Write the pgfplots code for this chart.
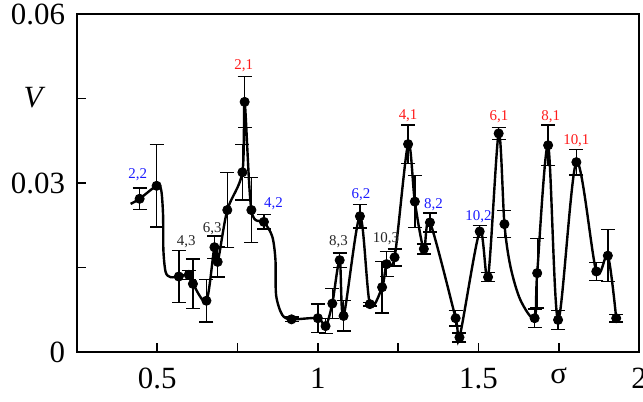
\documentclass[border=0pt]{standalone}
\usepackage{fontspec}
\setmainfont{Liberation Serif}
\usepackage{pgfplots}
\pgfplotsset{compat=1.18}
\usepackage{pgfplotstable}
\definecolor{lblred}{HTML}{FF1A1A}
\definecolor{lblblue}{HTML}{1A1AFF}

% smooth model curve
\pgfplotstableread{
s V
0.417 0.0263
0.445 0.0272
0.498 0.0295
0.512 0.0288
0.518 0.0243
0.519 0.0181
0.526 0.0142
0.541 0.0133
0.567 0.0134
0.598 0.0137
0.611 0.0121
0.653 0.0091
0.678 0.0186
0.688 0.0160
0.718 0.0252
0.765 0.0319
0.772 0.0444
0.793 0.0252
0.832 0.0231
0.858 0.0205
0.868 0.0163
0.870 0.0101
0.889 0.0066
0.918 0.0058
1.000 0.0060
1.024 0.0046
1.045 0.0086
1.068 0.0163
1.080 0.0064
1.131 0.0241
1.162 0.0085
1.200 0.0115
1.214 0.0156
1.239 0.0168
1.281 0.0369
1.302 0.0267
1.330 0.0183
1.349 0.0230
1.429 0.0060
1.441 0.0026
1.504 0.0214
1.530 0.0133
1.563 0.0388
1.581 0.0227
1.600 0.0151
1.631 0.0092
1.675 0.0060
1.683 0.0140
1.717 0.0367
1.748 0.0057
1.805 0.0337
1.867 0.0143
1.903 0.0171
1.929 0.0060
}\curve

% measured points with error
\pgfplotstableread{
s V e
0.445 0.0272 0.0019
0.498 0.0295 0.0073
0.567 0.0134 0.0046
0.598 0.0137 0.0008
0.611 0.0121 0.0044
0.653 0.0091 0.0038
0.678 0.0186 0.0020
0.688 0.0160 0.0027
0.718 0.0252 0.0067
0.765 0.0319 0.0049
0.772 0.0444 0.0045
0.793 0.0252 0.0058
0.832 0.0231 0.0013
0.918 0.0058 0.0004
1.000 0.0060 0.0025
1.024 0.0046 0.0013
1.045 0.0086 0.0027
1.068 0.0163 0.0013
1.080 0.0064 0.0027
1.131 0.0241 0.0021
1.162 0.0085 0.0003
1.200 0.0115 0.0046
1.214 0.0156 0.0022
1.239 0.0168 0.0015
1.281 0.0369 0.0034
1.302 0.0267 0.0046
1.330 0.0183 0.0009
1.349 0.0230 0.0017
1.429 0.0060 0.0014
1.441 0.0026 0.0008
1.504 0.0214 0.0011
1.530 0.0133 0.0008
1.563 0.0388 0.0011
1.581 0.0227 0.0024
1.675 0.0060 0.0016
1.683 0.0140 0.0062
1.717 0.0367 0.0036
1.748 0.0057 0.0017
1.805 0.0337 0.0023
1.867 0.0143 0.0016
1.903 0.0171 0.0046
1.929 0.0060 0.0007
}\points

\begin{document}
\begin{tikzpicture}
\begin{axis}[
  name=ax,
  scale only axis, width=281bp, height=169bp,
  xmin=0.25, xmax=2, ymin=0, ymax=0.06,
  axis line style={line width=1bp},
  tick align=inside, xtick pos=bottom, ytick pos=left,
  major tick length=4.5bp, tick style={line width=0.9bp, black},
  xtick={0.5,0.75,1,1.25,1.5,1.75,2},
  xticklabels={0.5,,1,,1.5,σ,2},
  ytick={0,0.015,0.03,0.045,0.06},
  yticklabels={0,,0.03,,0.06},
  scaled y ticks=false,
  ticklabel style={font=\fontsize{15.5}{18}\selectfont},
  xticklabel style={yshift=-4.5bp},
  yticklabel style={xshift=-2.5bp},
  clip=false,
]
  \addplot[black, line width=1.2bp, smooth, tension=0.5, no marks] table[x=s, y=V] {\curve};
  \addplot[black, only marks, mark=*, mark size=2.3bp,
    error bars/.cd, y dir=both, y explicit,
    error bar style={line width=0.7bp},
    error mark options={rotate=90, mark size=3.5bp, line width=0.7bp}]
    table[x=s, y=V, y error=e] {\points};

  \begin{scope}[every node/.style={font=\fontsize{7.5}{9}\selectfont, inner sep=0pt}]
    \node[lblblue] at (axis cs:0.439,0.0314) {2,2};
    \node[lblred]  at (axis cs:0.769,0.0509) {2,1};
    \node[lblblue] at (axis cs:0.862,0.0264) {4,2};
    \node[black!85] at (axis cs:0.590,0.0195) {4,3};
    \node[black!85] at (axis cs:0.671,0.0218) {6,3};
    \node[black!85] at (axis cs:1.064,0.0196) {8,3};
    \node[black!85] at (axis cs:1.212,0.0201) {10,3};
    \node[lblblue] at (axis cs:1.134,0.0280) {6,2};
    \node[lblred]  at (axis cs:1.281,0.0420) {4,1};
    \node[lblblue] at (axis cs:1.360,0.0261) {8,2};
    \node[lblblue] at (axis cs:1.500,0.0240) {10,2};
    \node[lblred]  at (axis cs:1.564,0.0417) {6,1};
    \node[lblred]  at (axis cs:1.725,0.0417) {8,1};
    \node[lblred]  at (axis cs:1.805,0.0375) {10,1};
  \end{scope}
  \node[font=\fontsize{15.5}{18}\selectfont\itshape] at (axis description cs:-0.078,0.754) {V};
\end{axis}
\pgfresetboundingbox
\path[use as bounding box] ([xshift=-38.5bp,yshift=-25bp]ax.south west) rectangle ([xshift=2bp,yshift=7bp]ax.north east);
\end{tikzpicture}
\end{document}
